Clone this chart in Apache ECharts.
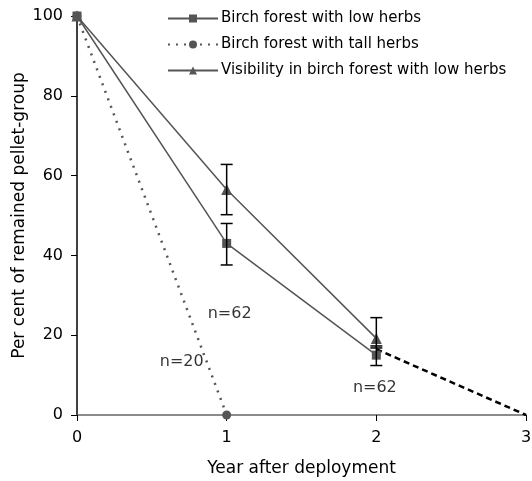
<!DOCTYPE html>
<html>
<head>
<meta charset="utf-8">
<script src="https://cdn.jsdelivr.net/npm/echarts@6/dist/echarts.min.js"></script>
<style>
  html, body { margin: 0; padding: 0; background: #fff; }
  #chart { width: 532px; height: 481px; }
</style>
</head>
<body>
<div id="chart"></div>
<script>
// values
const years = [0, 1, 2];
const lowHerbs = [100, 43, 15];
const lowHerbsErrLow = [null, 37.6, 12.4];
const lowHerbsErrHigh = [null, 48, 17.3];
const tallYears = [0, 1];
const tallHerbs = [100, 0];
const visibility = [100, 56.5, 19.2];
const visErrLow = [null, 50.2, 16.8];
const visErrHigh = [null, 62.8, 24.4];
const extrapYears = [2, 3];
const extrapValues = [16.5, 0];
const notes = [
    { x: 1.02, y: 25.3, text: 'n=62' },
    { x: 0.70, y: 13.3, text: 'n=20' },
    { x: 1.99, y: 6.8, text: 'n=62' }
];

const font = 'DejaVu Sans, Verdana, sans-serif';
const grey = '#555555';

function pairs(xs, ys) {
    return xs.map((x, i) => [x, ys[i]]);
}

function errData(lo, hi) {
    const out = [];
    years.forEach((x, i) => {
        if (lo[i] != null) out.push([x, lo[i], hi[i]]);
    });
    return out;
}

function errorBars(params, api) {
    const x = api.value(0);
    const lo = api.coord([x, api.value(1)]);
    const hi = api.coord([x, api.value(2)]);
    const half = 6;
    const style = { stroke: '#000', lineWidth: 1.5 };
    return {
        type: 'group',
        children: [
            { type: 'line', shape: { x1: lo[0], y1: lo[1], x2: hi[0], y2: hi[1] }, style: style },
            { type: 'line', shape: { x1: lo[0] - half, y1: lo[1], x2: lo[0] + half, y2: lo[1] }, style: style },
            { type: 'line', shape: { x1: hi[0] - half, y1: hi[1], x2: hi[0] + half, y2: hi[1] }, style: style }
        ]
    };
}

const chart = echarts.init(document.getElementById('chart'), null, { renderer: 'canvas' });

chart.setOption({
    animation: false,
    textStyle: { fontFamily: font },
    grid: { left: 77, right: 6, top: 16, bottom: 66, outerBoundsMode: 'none', containLabel: false },
    legend: {
        data: ['Birch forest with low herbs', 'Birch forest with tall herbs', 'Visibility in birch forest with low herbs'],
        orient: 'vertical',
        left: 162,
        top: 6,
        itemWidth: 50,
        itemHeight: 10,
        itemGap: 11,
        textStyle: { fontFamily: font, fontSize: 15, color: '#000', padding: [0, 0, 0, -2] }
    },
    xAxis: {
        type: 'value',
        min: 0,
        max: 3,
        interval: 1,
        name: 'Year after deployment',
        nameLocation: 'middle',
        nameGap: 45,
        nameMoveOverlap: false,
        nameTextStyle: { fontFamily: font, fontSize: 17, color: '#000' },
        axisLine: { lineStyle: { color: '#666', width: 1.5 } },
        axisTick: { show: true, length: 6, lineStyle: { color: '#000' } },
        axisLabel: { fontFamily: font, fontSize: 16, color: '#000', margin: 15 },
        splitLine: { show: false }
    },
    yAxis: {
        type: 'value',
        min: 0,
        max: 100,
        interval: 20,
        name: 'Per cent of remained pellet-group',
        nameLocation: 'middle',
        nameGap: 49,
        nameMoveOverlap: false,
        nameTextStyle: { fontFamily: font, fontSize: 17, color: '#000' },
        axisLine: { show: true, lineStyle: { color: '#000', width: 1.5 } },
        axisTick: { show: true, length: 6, lineStyle: { color: '#000' } },
        axisLabel: { fontFamily: font, fontSize: 16, color: '#000', margin: 14 },
        splitLine: { show: false }
    },
    series: [
        {
            name: 'Birch forest with low herbs',
            type: 'line',
            data: pairs(years, lowHerbs),
            symbol: 'rect',
            symbolSize: 9,
            itemStyle: { color: grey },
            lineStyle: { color: grey, width: 1.5 },
            z: 3
        },
        {
            name: 'Birch forest with tall herbs',
            type: 'line',
            data: pairs(tallYears, tallHerbs),
            symbol: 'circle',
            symbolSize: 9,
            itemStyle: { color: grey },
            lineStyle: { color: grey, width: 2.5, type: [2, 6] },
            z: 3
        },
        {
            name: 'Visibility in birch forest with low herbs',
            type: 'line',
            data: pairs(years, visibility),
            symbol: 'triangle',
            symbolSize: 11,
            itemStyle: { color: grey },
            lineStyle: { color: grey, width: 1.5 },
            z: 3
        },
        {
            name: 'extrapolation',
            type: 'line',
            data: pairs(extrapYears, extrapValues),
            symbol: 'none',
            lineStyle: { color: '#000', width: 2.5, type: [6, 4] },
            z: 2
        },
        {
            name: 'err low',
            type: 'custom',
            renderItem: errorBars,
            data: errData(lowHerbsErrLow, lowHerbsErrHigh),
            z: 4
        },
        {
            name: 'err vis',
            type: 'custom',
            renderItem: errorBars,
            data: errData(visErrLow, visErrHigh),
            z: 4
        },
        {
            name: 'notes',
            type: 'scatter',
            symbol: 'circle',
            symbolSize: 1,
            itemStyle: { color: 'rgba(0,0,0,0)' },
            data: notes.map(n => ({ value: [n.x, n.y], label: { formatter: n.text } })),
            label: {
                show: true,
                position: 'inside',
                fontFamily: font,
                fontSize: 16,
                color: '#000'
            },
            silent: true
        }
    ]
});
</script>
</body>
</html>
